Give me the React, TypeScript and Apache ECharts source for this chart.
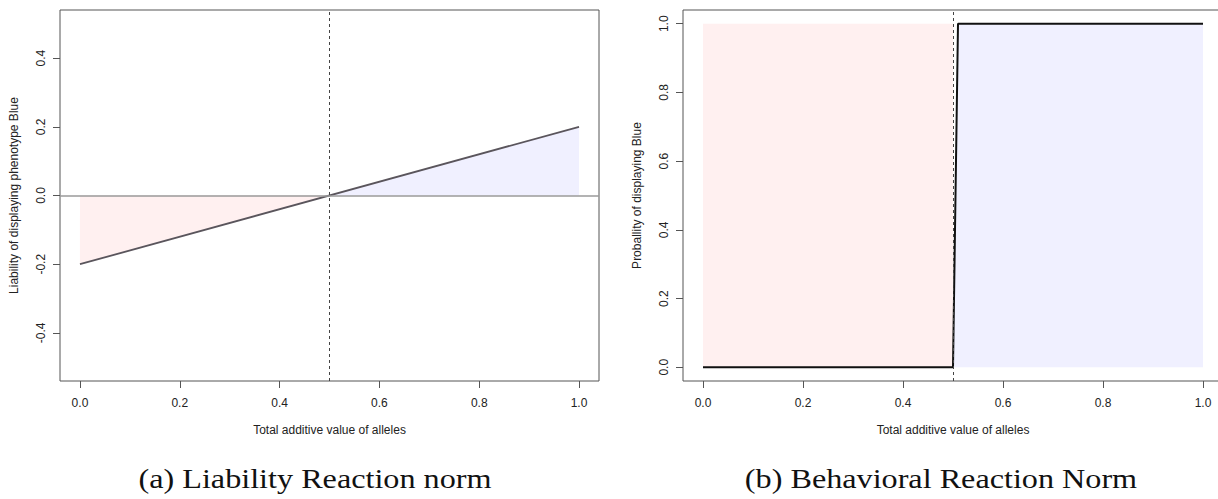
import React, { useEffect, useRef } from "react";
import * as echarts from "echarts";

// ---- data ----
const xTicks = [0, 0.2, 0.4, 0.6, 0.8, 1.0];
const leftYTicks = [-0.4, -0.2, 0, 0.2, 0.4];
const rightYTicks = [0, 0.2, 0.4, 0.6, 0.8, 1.0];
const threshold = 0.5;
const liabilityX = [0, 1];
const liabilityY = [-0.2, 0.2];
const stepX = [0, 0.5, 0.51, 1];
const stepY = [0, 0, 1, 1];
const captions = ["(a) Liability Reaction norm", "(b) Behavioral Reaction Norm"];
const xTitle = "Total additive value of alleles";
const leftYTitle = "Liability of displaying phenotype Blue";
const rightYTitle = "Proballity of displaying Blue";

const PINK = "#FFF0F0";
const BLUE = "#F0F0FF";
const FONT = "'Liberation Sans', Arial, sans-serif";

export default function App() {
  const ref = useRef<HTMLDivElement>(null);
  useEffect(() => {
    document.body.style.margin = "0";
    const chart = echarts.init(ref.current!, null, { renderer: "svg" });

    const liaPts = liabilityX.map((x, i) => [x, liabilityY[i]]);
    const liaAt = (x: number) =>
      liabilityY[0] + ((liabilityY[1] - liabilityY[0]) * (x - liabilityX[0])) / (liabilityX[1] - liabilityX[0]);
    const stepPts = stepX.map((x, i) => [x, stepY[i]]);

    const axisTextStyle = { color: "#222", fontFamily: FONT, fontSize: 12 };
    const fmt = (v: number) => v.toFixed(1);

    const xAxisBase = (gridIndex: number) => ({
      type: "value",
      gridIndex,
      min: -0.04,
      max: 1.04,
      axisLine: { show: false, onZero: false },
      splitLine: { show: false },
      axisTick: { show: true, customValues: xTicks, length: 7, lineStyle: { color: "#555" } },
      axisLabel: { show: true, customValues: xTicks, formatter: fmt, margin: 16, ...axisTextStyle },
      name: xTitle,
      nameLocation: "middle",
      nameGap: 43,
      nameTextStyle: { ...axisTextStyle },
    });
    const yAxisBase = (gridIndex: number, min: number, max: number, ticks: number[], title: string) => ({
      type: "value",
      gridIndex,
      min,
      max,
      axisLine: { show: false, onZero: false },
      splitLine: { show: false },
      axisTick: { show: true, customValues: ticks, length: 7, lineStyle: { color: "#555" } },
      axisLabel: { show: true, customValues: ticks, formatter: fmt, rotate: 90, margin: 13, ...axisTextStyle },
      name: title,
      nameLocation: "middle",
      nameGap: 40,
      nameTextStyle: { ...axisTextStyle },
    });

    const gridStyle = {
      show: true,
      borderColor: "#555",
      borderWidth: 1,
      backgroundColor: "transparent",
      containLabel: false,
      outerBoundsMode: "none",
    };

    chart.setOption({
      animation: false,
      grid: [
        { left: 60, top: 10, width: 539, height: 371, ...gridStyle },
        { left: 683, top: 10, width: 540, height: 371, ...gridStyle },
      ],
      xAxis: [xAxisBase(0), xAxisBase(1)],
      yAxis: [
        yAxisBase(0, -0.54, 0.54, leftYTicks, leftYTitle),
        yAxisBase(1, -0.04, 1.04, rightYTicks, rightYTitle),
      ],
      series: [
        {
          type: "line",
          xAxisIndex: 0,
          yAxisIndex: 0,
          data: [[0, liaAt(0)], [threshold, liaAt(threshold)]],
          symbol: "none",
          lineStyle: { width: 0 },
          areaStyle: { color: PINK, opacity: 1 },
          silent: true,
          z: 1,
        },
        {
          type: "line",
          xAxisIndex: 0,
          yAxisIndex: 0,
          data: [[threshold, liaAt(threshold)], [1, liaAt(1)]],
          symbol: "none",
          lineStyle: { width: 0 },
          areaStyle: { color: BLUE, opacity: 1 },
          silent: true,
          z: 1,
        },
        {
          type: "line",
          xAxisIndex: 0,
          yAxisIndex: 0,
          data: [],
          markLine: {
            silent: true,
            symbol: "none",
            label: { show: false },
            data: [
              { yAxis: 0, lineStyle: { color: "#9a9a9a", width: 1.5, type: "solid" } },
              { xAxis: threshold, lineStyle: { color: "#444", width: 1, type: [3, 3] } },
            ],
          },
          z: 2,
        },
        {
          type: "line",
          xAxisIndex: 0,
          yAxisIndex: 0,
          data: liaPts,
          symbol: "none",
          lineStyle: { color: "#5a555c", width: 1.8 },
          silent: true,
          z: 3,
        },
        {
          type: "line",
          xAxisIndex: 1,
          yAxisIndex: 1,
          data: [[0, 1], [threshold, 1]],
          symbol: "none",
          lineStyle: { width: 0 },
          areaStyle: { color: PINK, opacity: 1 },
          silent: true,
          z: 1,
        },
        {
          type: "line",
          xAxisIndex: 1,
          yAxisIndex: 1,
          data: stepPts.filter((p) => p[0] >= threshold),
          symbol: "none",
          lineStyle: { width: 0 },
          areaStyle: { color: BLUE, opacity: 1 },
          silent: true,
          z: 1,
        },
        {
          type: "line",
          xAxisIndex: 1,
          yAxisIndex: 1,
          data: [],
          markLine: {
            silent: true,
            symbol: "none",
            label: { show: false },
            data: [{ xAxis: threshold, lineStyle: { color: "#444", width: 1, type: [3, 3] } }],
          },
          z: 2,
        },
        {
          type: "line",
          xAxisIndex: 1,
          yAxisIndex: 1,
          data: stepPts,
          symbol: "none",
          lineStyle: { color: "#111", width: 2 },
          silent: true,
          z: 3,
        },
      ],
      graphic: [
        {
          type: "text",
          x: 315,
          y: 479,
          scaleX: 1.15,
          style: {
            text: captions[0],
            fill: "#111",
            font: "28px 'Liberation Serif', serif",
            textAlign: "center",
            textVerticalAlign: "middle",
          },
        },
        {
          type: "text",
          x: 941,
          y: 479,
          scaleX: 1.15,
          style: {
            text: captions[1],
            fill: "#111",
            font: "28px 'Liberation Serif', serif",
            textAlign: "center",
            textVerticalAlign: "middle",
          },
        },
      ],
    });
    return () => chart.dispose();
  }, []);
  return <div ref={ref} style={{ width: 1218, height: 499 }} />;
}
